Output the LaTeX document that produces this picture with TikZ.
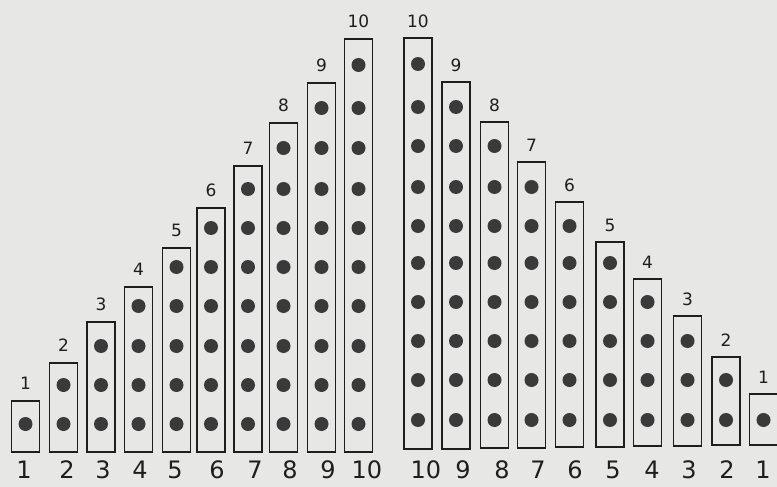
\documentclass[tikz,border=0pt]{standalone}
\usepackage{fontspec}
\setmainfont{DejaVu Sans}
\definecolor{paper}{RGB}{231,231,229}
\definecolor{ink}{RGB}{30,30,30}
\definecolor{dotc}{RGB}{58,58,58}
\begin{document}
\begin{tikzpicture}[x=1pt,y=-1pt,
  barbox/.style={draw=ink,line width=1.6pt},
  bead/.style={fill=dotc,draw=none},
  toplab/.style={font=\fontsize{17}{17}\selectfont,text=ink,inner sep=0pt},
  botlab/.style={font=\fontsize{24}{24}\selectfont,text=ink,inner sep=0pt}]
\fill[paper] (0,0) rectangle (777,487);
\useasboundingbox (0,0) rectangle (777,487);
% left bars (n = 1..10)
\foreach \n/\cx/\top/\bx in {1/25.5/401/24,2/63.5/363/67,3/101/322/103,4/138.5/287/140,5/176.5/248/175,6/211/208/217,7/248/166/255,8/283.5/123/290,9/321.5/83/328,10/358.5/39/367}{
  \draw[barbox] (\cx-14,\top) rectangle (\cx+14,452);
  \foreach \k/\yy in {1/424,2/385,3/346,4/306,5/267,6/228,7/189,8/148,9/108,10/65}{
    \ifnum\k>\n\else \fill[bead] (\cx,\yy) circle (7);\fi
  }
  \node[toplab] (lt\n) at (\cx,\top-18) {\n};
  \node[botlab] (lb\n) at (\bx,470) {\n};
}
% right bars (n = 10..1)
\foreach \n/\cx/\top/\bot/\bx in {10/418/38/449/426,9/456/82/449/463,8/494.5/122/448/502,7/531.5/162/448/538,6/569.5/202/447/575,5/610/242/447/613,4/647.5/279/446/652,3/687.5/316/446/689,2/726/357/445/727,1/763.5/394/445/763}{
  \draw[barbox] (\cx-14,\top) rectangle (\cx+14,\bot);
  \foreach \k/\yy in {1/420,2/380,3/341,4/302,5/263,6/226,7/187,8/146,9/107,10/64}{
    \ifnum\k>\n\else \fill[bead] (\cx,\yy) circle (7);\fi
  }
  \node[toplab] (rt\n) at (\cx,\top-17) {\n};
  \node[botlab] (rb\n) at (\bx,470) {\n};
}
\end{tikzpicture}
\end{document}
